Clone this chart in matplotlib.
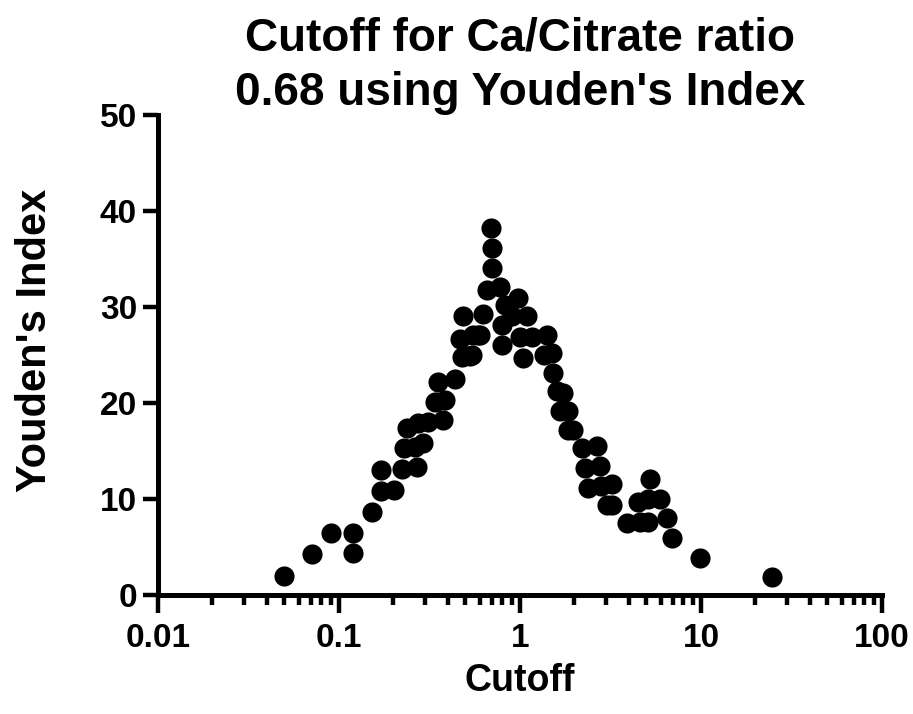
import matplotlib.pyplot as plt
from matplotlib.ticker import LogLocator, FixedLocator, FixedFormatter

# Dados (cutoff, índice de Youden)
cutoff = [0.050, 0.071, 0.090, 0.120, 0.120, 0.152, 0.170, 0.170, 0.201, 0.222,
          0.271, 0.229, 0.237, 0.262, 0.292, 0.275, 0.311, 0.339, 0.376, 0.385,
          0.354, 0.437, 0.476, 0.529, 0.465, 0.550, 0.486, 0.600, 0.627, 0.655,
          0.689, 0.698, 0.698, 0.776, 0.979, 0.826, 0.792, 0.900, 1.100, 0.588,
          0.792, 1.000, 1.160, 1.410, 0.541, 1.040, 1.350, 1.500, 1.520, 1.600,
          1.740, 1.660, 1.850, 1.850, 1.970, 2.190, 2.650, 2.290, 2.770, 2.390,
          2.820, 3.210, 3.010, 3.210, 3.880, 4.600, 5.110, 4.510, 5.110, 5.930,
          5.230, 6.460, 6.890, 9.870, 24.80]
youden = [2.0, 4.2, 6.4, 6.4, 4.3, 8.6, 10.8, 13.0, 10.9, 13.1,
          13.3, 15.3, 17.4, 15.4, 15.8, 17.9, 18.0, 20.1, 18.2, 20.3,
          22.2, 22.5, 24.8, 24.9, 26.7, 27.1, 29.0, 27.1, 29.3, 31.8,
          38.2, 36.1, 34.0, 32.1, 30.9, 30.2, 28.1, 29.0, 29.0, 27.1,
          26.0, 26.9, 26.9, 27.1, 25.0, 24.7, 25.0, 25.2, 23.1, 21.2,
          21.0, 19.1, 19.1, 17.2, 17.2, 15.3, 15.5, 13.2, 13.4, 11.1,
          11.3, 11.5, 9.4, 9.4, 7.5, 7.6, 7.6, 9.7, 10.0, 10.0,
          12.1, 8.0, 5.9, 3.8, 1.8]

x_ticks = [0.01, 0.1, 1, 10, 100]
x_labels = ['0.01', '0.1', '1', '10', '100']
y_ticks = [0, 10, 20, 30, 40, 50]

plt.rcParams['font.family'] = ['Liberation Sans', 'DejaVu Sans']
plt.rcParams['font.weight'] = 'bold'

fig = plt.figure(figsize=(9.13, 7.14), dpi=100)
ax = fig.add_axes([0.173, 0.167, 0.793, 0.672])

ax.plot(cutoff, youden, 'o', color='black', markersize=14.5, markeredgewidth=0)

ax.set_xscale('log')
ax.set_xlim(0.01, 100)
ax.set_ylim(0, 50)

ax.xaxis.set_major_locator(FixedLocator(x_ticks))
ax.xaxis.set_major_formatter(FixedFormatter(x_labels))
ax.xaxis.set_minor_locator(LogLocator(base=10, subs=range(2, 10)))
ax.set_yticks(y_ticks)

for lado in ['top', 'right']:
    ax.spines[lado].set_visible(False)
for lado in ['left', 'bottom']:
    ax.spines[lado].set_linewidth(3.6)
ax.spines['left'].set_bounds(0, 50)

ax.tick_params(axis='y', which='major', length=11, width=3.2, labelsize=24, pad=4)
ax.tick_params(axis='x', which='major', length=13, width=3.2, labelsize=24, pad=7)
ax.tick_params(axis='x', which='minor', length=7, width=3.2)

ax.set_title("Cutoff for Ca/Citrate ratio\n0.68 using Youden's Index",
             fontsize=33, fontweight='bold', pad=4, linespacing=1.3)
ax.set_xlabel('Cutoff', fontsize=27, fontweight='bold', labelpad=7)
ax.set_ylabel("Youden's Index", fontsize=30, fontweight='bold', labelpad=32, y=0.53)

plt.savefig('out.png', dpi=100)
